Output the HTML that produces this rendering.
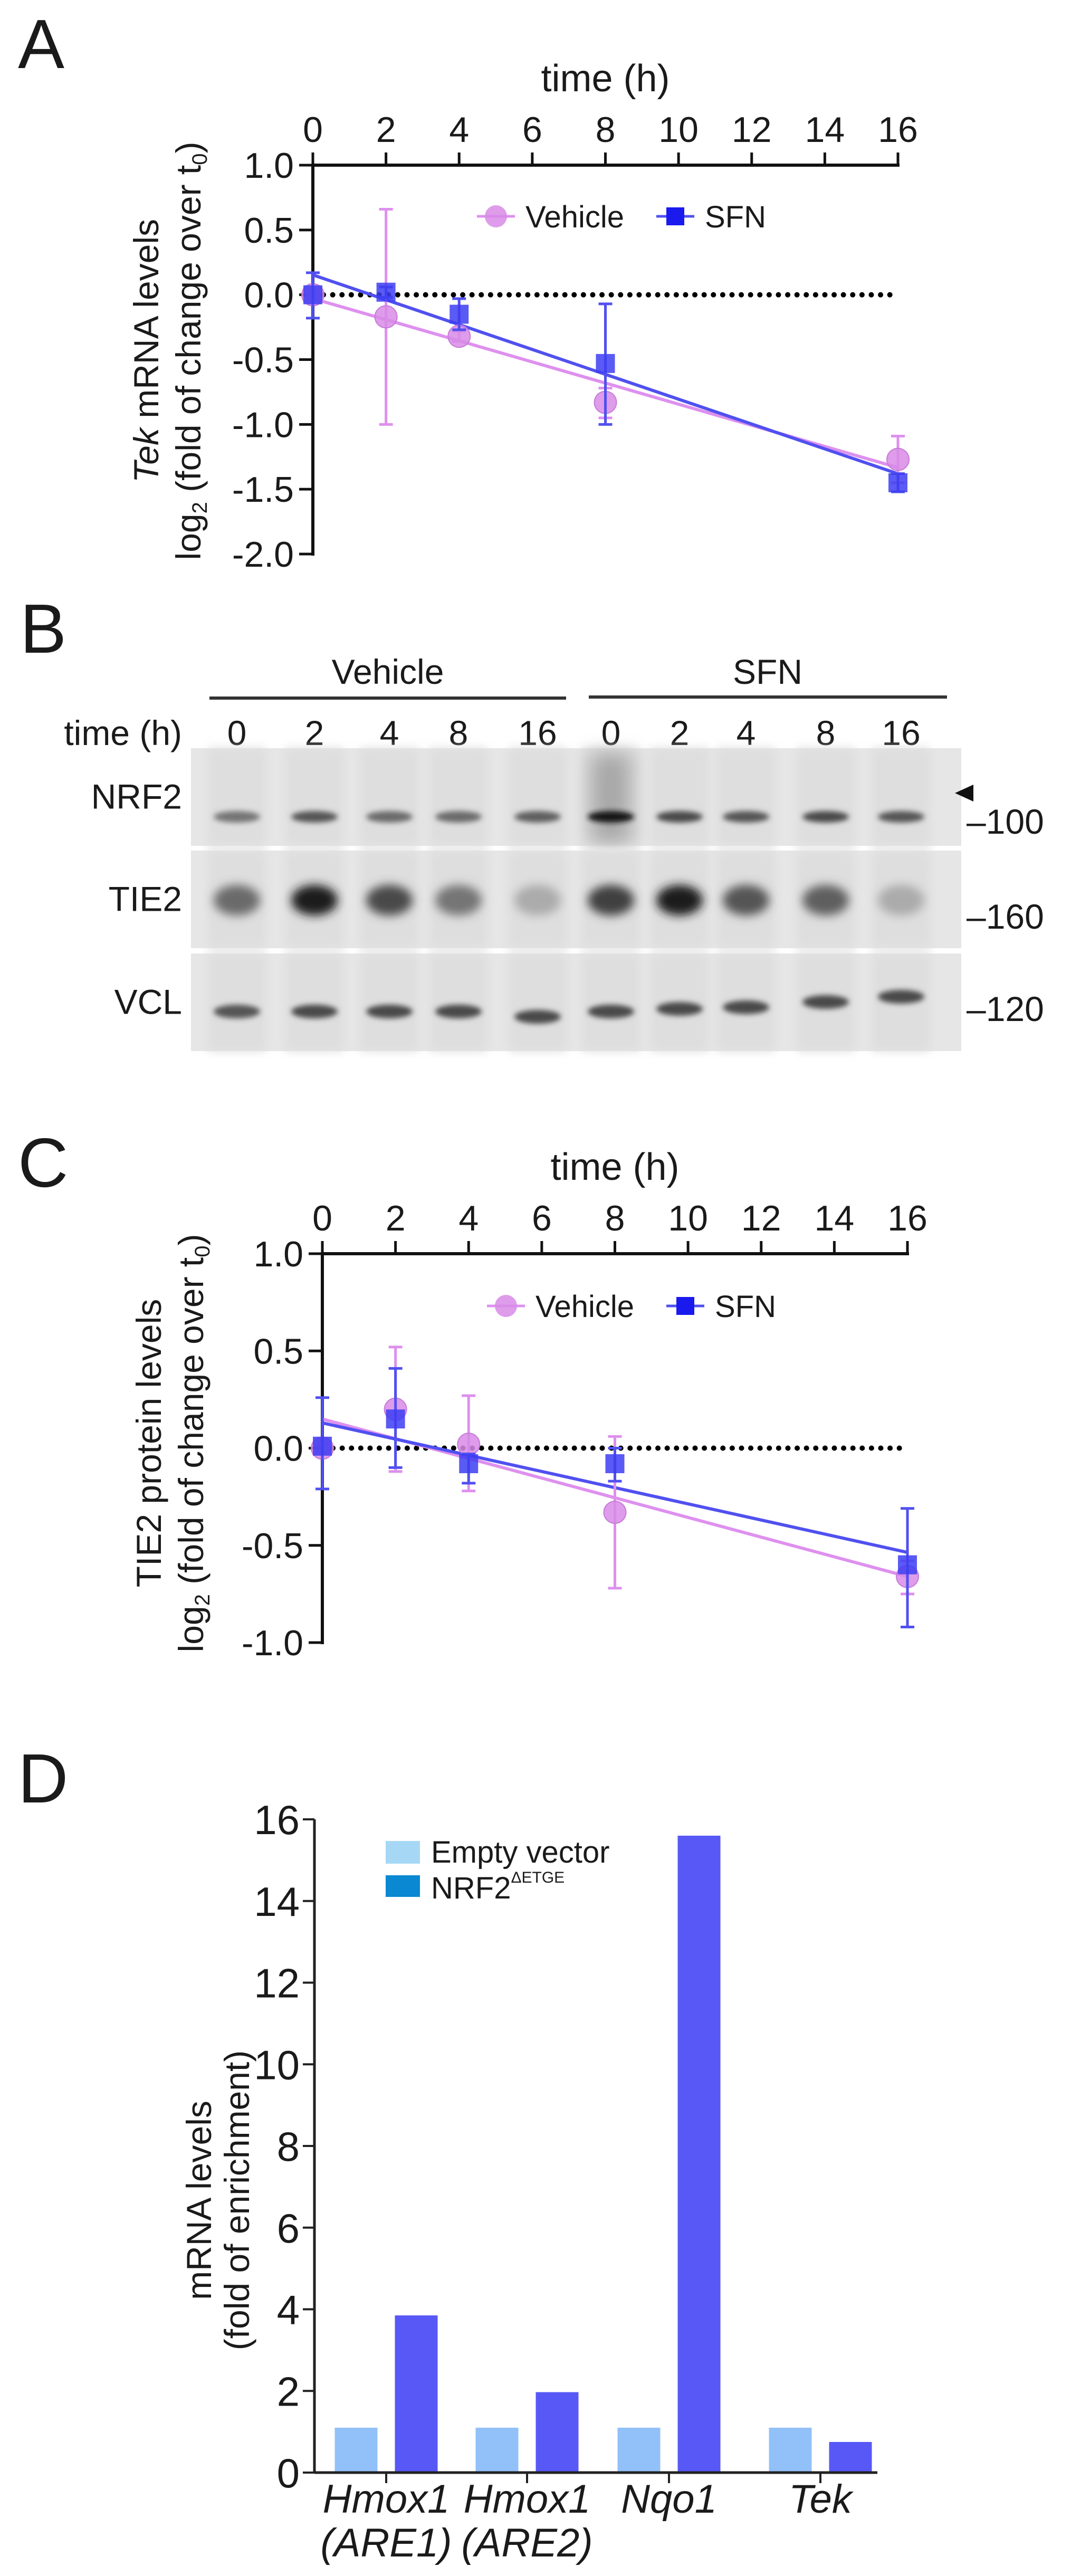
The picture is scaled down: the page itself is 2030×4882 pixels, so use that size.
<!DOCTYPE html>
<html><head><meta charset="utf-8"><style>
html,body{margin:0;padding:0;background:#fff}
svg{display:block}
text{font-family:"Liberation Sans",Arial,sans-serif;fill:#1a1a1a}
</style></head><body>
<svg id="fig" width="2030" height="4882" viewBox="0 0 2030 4882" xmlns="http://www.w3.org/2000/svg">
<defs>
<filter id="blur8" x="-50%" y="-200%" width="200%" height="500%"><feGaussianBlur stdDeviation="9"/></filter>
<filter id="blur4" x="-50%" y="-200%" width="200%" height="500%"><feGaussianBlur stdDeviation="5"/></filter>
<filter id="blur20" x="-50%" y="-100%" width="200%" height="300%"><feGaussianBlur stdDeviation="18"/></filter>
</defs>
<g id="root"></g>
</svg>
<script>
// ---------- Panel A data ----------
const timesA = [0, 2, 4, 8, 16];
const vehA = [0, -0.17, -0.32, -0.83, -1.27];
const vehAHi = [0, 0.66, -0.28, -0.72, -1.09];
const vehALo = [0, -1.0, -0.36, -0.95, -1.45];
const sfnA = [0, 0.02, -0.15, -0.53, -1.45];
const sfnAHi = [0.17, 0.06, -0.03, -0.07, -1.38];
const sfnALo = [-0.18, -0.02, -0.27, -1.0, -1.52];
const xTicks = [0, 2, 4, 6, 8, 10, 12, 14, 16];
const yTicksA = [1.0, 0.5, 0.0, -0.5, -1.0, -1.5, -2.0];
// ---------- Panel C data ----------
const timesC = [0, 2, 4, 8, 16];
const vehC = [0, 0.2, 0.02, -0.33, -0.66];
const vehCHi = [0.02, 0.52, 0.27, 0.06, -0.58];
const vehCLo = [-0.02, -0.12, -0.22, -0.72, -0.75];
const sfnC = [0.01, 0.15, -0.08, -0.08, -0.6];
const sfnCHi = [0.26, 0.41, -0.03, 0.0, -0.31];
const sfnCLo = [-0.21, -0.1, -0.18, -0.17, -0.92];
const yTicksC = [1.0, 0.5, 0.0, -0.5, -1.0];
// ---------- Panel D data ----------
const catsD1 = ["Hmox1", "Hmox1", "Nqo1", "Tek"];
const catsD2 = ["(ARE1)", "(ARE2)", "", ""];
const emptyVec = [1.1, 1.1, 1.1, 1.1];
const nrf2 = [3.85, 1.97, 15.6, 0.75];
const yTicksD = [0, 2, 4, 6, 8, 10, 12, 14, 16];
// ---------- Panel B (blot) ----------
const laneLabels = ["0", "2", "4", "8", "16", "0", "2", "4", "8", "16"];
const nrf2Band = [0.55, 0.7, 0.6, 0.6, 0.65, 1.0, 0.75, 0.7, 0.75, 0.7];
const tie2Band = [0.6, 0.95, 0.75, 0.55, 0.3, 0.8, 0.95, 0.7, 0.65, 0.3];
const vclBand = [0.7, 0.75, 0.75, 0.75, 0.75, 0.75, 0.75, 0.75, 0.75, 0.75];
const vclShift = [0, 0, 0, 0, 10, 0, -5, -8, -18, -28];

const NS = "http://www.w3.org/2000/svg";
const root = document.getElementById("root");
function mk(tag, attrs, parent) {
  const e = document.createElementNS(NS, tag);
  for (const k in attrs) e.setAttribute(k, attrs[k]);
  (parent || root).appendChild(e);
  return e;
}
function txt(s, attrs, parent) { const t = mk("text", attrs, parent); t.textContent = s; return t; }

function regression(xs, ys) {
  const n = xs.length;
  const mx = xs.reduce((a, b) => a + b, 0) / n, my = ys.reduce((a, b) => a + b, 0) / n;
  let sxy = 0, sxx = 0;
  for (let i = 0; i < n; i++) { sxy += (xs[i] - mx) * (ys[i] - my); sxx += (xs[i] - mx) ** 2; }
  const m = sxy / sxx; return [m, my - m * mx];
}

const VCOL = "#d88be6", VLINE = "#de90ee", SCOL = "#3d3df2", SLINE = "#5050f0";

function lineChart(o) {
  const g = mk("g", {});
  
  
  const X = t => o.x0 + (t / 16) * (o.x1 - o.x0);
  const Y = v => o.yTop + (o.yMax - v) / (o.yMax - o.yMin) * (o.yBot - o.yTop);
  const L = txt(o.letter, { x: 34, y: o.letterY, "font-size": 132 }, g);
  
  
  const xt = txt("time (h)", { x: (o.x0 + o.x1) / 2, y: o.yTop - 140, "font-size": 72, "text-anchor": "middle" }, g);
  
  
  const ax = mk("line", { x1: o.x0 - 3, y1: o.yTop, x2: o.x1 + 3, y2: o.yTop, stroke: "#111", "stroke-width": 6 }, g);
  
  
  for (const t of xTicks) {
    const tk = mk("line", { x1: X(t), y1: o.yTop, x2: X(t), y2: o.yTop - 24, stroke: "#111", "stroke-width": 5 }, g);
    
    
    const tl = txt(String(t), { x: X(t), y: o.yTop - 44, "font-size": 68, "text-anchor": "middle" }, g);
    
    
  }
  const ay = mk("line", { x1: o.x0, y1: o.yTop, x2: o.x0, y2: o.yBot + 3, stroke: "#111", "stroke-width": 6 }, g);
  
  
  for (const v of o.yTicks) {
    const tk = mk("line", { x1: o.x0 - 26, y1: Y(v), x2: o.x0, y2: Y(v), stroke: "#111", "stroke-width": 5 }, g);
    
    
    const tl = txt(v.toFixed(1), { x: o.x0 - 36, y: Y(v) + 24, "font-size": 68, "text-anchor": "end" }, g);
    
    
  }
  const yt = mk("g", { transform: `translate(${o.ytX},${o.ytY}) rotate(-90)` }, g);
  
  
  const l1 = mk("text", { x: 0, y: 0, "font-size": 66, "text-anchor": "middle" }, yt);
  l1.innerHTML = o.title1;
  const l2 = mk("text", { x: 0, y: 80, "font-size": 66, "text-anchor": "middle" }, yt);
  l2.innerHTML = 'log<tspan font-size="40" dy="12">2</tspan><tspan dy="-12"> (fold of change over t</tspan><tspan font-size="40" dy="12">0</tspan><tspan dy="-12">)</tspan>';
  const zl = mk("line", { x1: X(0) + 20, y1: Y(0), x2: X(16), y2: Y(0), stroke: "#000", "stroke-width": 10, "stroke-dasharray": "0.1 17.5", "stroke-linecap": "round" }, g);
  
  
  const series = [
    { name: "vehicle", ys: o.veh, hi: o.vehHi, lo: o.vehLo, col: VCOL, lc: VLINE, shape: "circle" },
    { name: "sfn", ys: o.sfn, hi: o.sfnHi, lo: o.sfnLo, col: SCOL, lc: SLINE, shape: "square" }
  ];
  for (const s of series) {
    const [m, b] = regression(o.times, s.ys);
    const fl = mk("line", { x1: X(0), y1: Y(b), x2: X(16), y2: Y(b + 16 * m), stroke: s.lc, "stroke-width": 6 }, g);
    
    
  }
  for (const s of series) {
    for (let i = 0; i < o.times.length; i++) {
      const x = X(o.times[i]);
      const eb = mk("path", { d: `M${x},${Y(s.hi[i])}V${Y(s.lo[i])}M${x - 13},${Y(s.hi[i])}h26M${x - 13},${Y(s.lo[i])}h26`, stroke: s.lc, "stroke-width": 5, fill: "none" }, g);
      
      
      let mkr;
      if (s.shape === "circle") mkr = mk("circle", { cx: x, cy: Y(s.ys[i]), r: 21, fill: s.col, "fill-opacity": 0.85, stroke: "#c77ad8", "stroke-width": 2 }, g);
      else mkr = mk("rect", { x: x - 18, y: Y(s.ys[i]) - 18, width: 36, height: 36, fill: s.col, "fill-opacity": 0.85 }, g);
      
      
    }
  }
  const lg = mk("g", {}, g);
  
  
  const e1 = mk("g", {}, lg);
  
  
  mk("line", { x1: o.legX - 36, y1: o.legY, x2: o.legX + 36, y2: o.legY, stroke: VLINE, "stroke-width": 5 }, e1);
  mk("circle", { cx: o.legX, cy: o.legY, r: 21, fill: VCOL, "fill-opacity": 0.85 }, e1);
  txt("Vehicle", { x: o.legX + 56, y: o.legY + 21, "font-size": 58 }, e1);
  const e2 = mk("g", {}, lg);
  
  
  const sx = o.legX + 340;
  mk("line", { x1: sx - 36, y1: o.legY, x2: sx + 36, y2: o.legY, stroke: SLINE, "stroke-width": 5 }, e2);
  mk("rect", { x: sx - 17, y: o.legY - 17, width: 34, height: 34, fill: "#1a1aee" }, e2);
  txt("SFN", { x: sx + 56, y: o.legY + 21, "font-size": 58 }, e2);
}

lineChart({ name: "panel-a-tek-mrna-chart", letter: "A", letterY: 129, x0: 593, x1: 1702, yTop: 313, yBot: 1050, yMax: 1.0, yMin: -2.0,
  yTicks: yTicksA, ytX: 300, ytY: 665, title1: '<tspan font-style="italic">Tek</tspan> mRNA levels',
  times: timesA, veh: vehA, vehHi: vehAHi, vehLo: vehALo, sfn: sfnA, sfnHi: sfnAHi, sfnLo: sfnALo, legX: 940, legY: 410 });

lineChart({ name: "panel-c-tie2-protein-chart", letter: "C", letterY: 2249, x0: 611, x1: 1720, yTop: 2376, yBot: 3113, yMax: 1.0, yMin: -1.0,
  yTicks: yTicksC, ytX: 305, ytY: 2735, title1: 'TIE2 protein levels',
  times: timesC, veh: vehC, vehHi: vehCHi, vehLo: vehCLo, sfn: sfnC, sfnHi: sfnCHi, sfnLo: sfnCLo, legX: 959, legY: 2475 });

(function () {
  const g = mk("g", {});
  
  
  const L = txt("B", { x: 38, y: 1237, "font-size": 132 }, g);
  
  
  const gv = txt("Vehicle", { x: 735, y: 1296, "font-size": 66, "text-anchor": "middle" }, g);
  
  
  const gs = txt("SFN", { x: 1455, y: 1296, "font-size": 66, "text-anchor": "middle" }, g);
  
  
  mk("line", { x1: 397, y1: 1323, x2: 1073, y2: 1323, stroke: "#333", "stroke-width": 6 }, g);
  mk("line", { x1: 1116, y1: 1321, x2: 1795, y2: 1321, stroke: "#333", "stroke-width": 6 }, g);
  const tl = txt("time (h)", { x: 345, y: 1412, "font-size": 66, "text-anchor": "end" }, g);
  
  
  const laneX = [449, 596, 738, 869, 1019, 1158, 1288, 1414, 1565, 1708];
  laneLabels.forEach((s, i) => {
    const t = txt(s, { x: laneX[i], y: 1412, "font-size": 66, "text-anchor": "middle" }, g);
    
    
  });
  const panels = [
    { name: "NRF2", y0: 1418, y1: 1603, bandY: 1548, h: 22, vals: nrf2Band, mw: "–100", mwY: 1580, shift: [0,0,0,0,0,0,0,0,0,0] },
    { name: "TIE2", y0: 1612, y1: 1797, bandY: 1706, h: 58, vals: tie2Band, mw: "–160", mwY: 1760, shift: [0,0,0,0,0,0,0,0,0,0] },
    { name: "VCL", y0: 1807, y1: 1992, bandY: 1917, h: 26, vals: vclBand, mw: "–120", mwY: 1935, shift: vclShift }
  ];
  for (const p of panels) {
    const pg = mk("g", {}, g);
    
    
    mk("rect", { x: 362, y: p.y0, width: 1460, height: p.y1 - p.y0, fill: "#e6e6e6" }, pg);
    laneX.forEach(x => mk("rect", { x: x - 55, y: p.y0, width: 110, height: p.y1 - p.y0, fill: "#dedede", filter: "url(#blur8)" }, pg));
    if (p.name === "NRF2") mk("rect", { x: 1120, y: p.y0 + 10, width: 75, height: 170, fill: "#a8a8a8", filter: "url(#blur20)" }, pg);
    p.vals.forEach((v, i) => {
      const c = Math.round(235 - 215 * v);
      const b = mk("ellipse", { cx: laneX[i], cy: p.bandY + p.shift[i], rx: 44, ry: p.h / 2, fill: `rgb(${c},${c},${c})`, filter: p.h > 40 ? "url(#blur8)" : "url(#blur4)" }, pg);
      
      
    });
    const lb = txt(p.name, { x: 345, y: (p.y0 + p.y1) / 2 + 22, "font-size": 66, "text-anchor": "end" }, pg);
    
    
    const mw = txt(p.mw, { x: 1832, y: p.mwY, "font-size": 66 }, pg);
    
    
  }
  const ar = mk("polygon", { points: "1810,1503 1845,1487 1845,1519", fill: "#111" }, g);
  
  
})();

(function () {
  const g = mk("g", {});
  
  
  const L = txt("D", { x: 34, y: 3416, "font-size": 132 }, g);
  
  
  const x0 = 596, x1 = 1663, yTop = 3448, yBot = 4686, yMax = 16;
  const Y = v => yBot - v / yMax * (yBot - yTop);
  const catX = [732, 999, 1268, 1555];
  const bw = 81, off = 57;
  for (const v of yTicksD) {
    const tk = mk("line", { x1: x0 - 22, y1: Y(v), x2: x0, y2: Y(v), stroke: "#222", "stroke-width": 4 }, g);
    
    
    const tl = txt(String(v), { x: x0 - 28, y: Y(v) + 28, "font-size": 78, "text-anchor": "end" }, g);
    
    
  }
  catX.forEach((cx, i) => {
    const b1 = mk("rect", { x: cx - off - bw / 2, y: Y(emptyVec[i]), width: bw, height: Y(0) - Y(emptyVec[i]), fill: "#92c1f9" }, g);
    
    
    const b2 = mk("rect", { x: cx + off - bw / 2, y: Y(nrf2[i]), width: bw, height: Y(0) - Y(nrf2[i]), fill: "#5858f6" }, g);
    
    
    const tk = mk("line", { x1: cx, y1: yBot, x2: cx, y2: yBot + 20, stroke: "#222", "stroke-width": 4 }, g);
    
    
    const c1 = txt(catsD1[i], { x: cx, y: 4762, "font-size": 76, "font-style": "italic", "text-anchor": "middle" }, g);
    
    
    if (catsD2[i]) {
      const c2 = txt(catsD2[i], { x: cx, y: 4845, "font-size": 76, "font-style": "italic", "text-anchor": "middle" }, g);
      
      
    }
  });
  const ay = mk("line", { x1: x0, y1: yTop, x2: x0, y2: yBot + 2, stroke: "#222", "stroke-width": 5 }, g);
  
  
  const ax = mk("line", { x1: x0, y1: yBot, x2: x1, y2: yBot, stroke: "#222", "stroke-width": 5 }, g);
  
  
  const yt = mk("g", { transform: "translate(400,4170) rotate(-90)" }, g);
  
  
  txt("mRNA levels", { x: 0, y: 0, "font-size": 66, "text-anchor": "middle" }, yt);
  txt("(fold of enrichment)", { x: 0, y: 72, "font-size": 66, "text-anchor": "middle" }, yt);
  const lg = mk("g", {}, g);
  
  
  const e1 = mk("g", {}, lg);
  
  
  mk("rect", { x: 731, y: 3489, width: 65, height: 43, fill: "#a6d8f5" }, e1);
  txt("Empty vector", { x: 817, y: 3530, "font-size": 58 }, e1);
  const e2 = mk("g", {}, lg);
  
  
  mk("rect", { x: 731, y: 3554, width: 65, height: 41, fill: "#0a88d2" }, e2);
  const t2 = mk("text", { x: 817, y: 3598, "font-size": 58 }, e2);
  t2.innerHTML = 'NRF2<tspan font-size="30" dy="-30">ΔETGE</tspan>';
})();
</script>
</body></html>
